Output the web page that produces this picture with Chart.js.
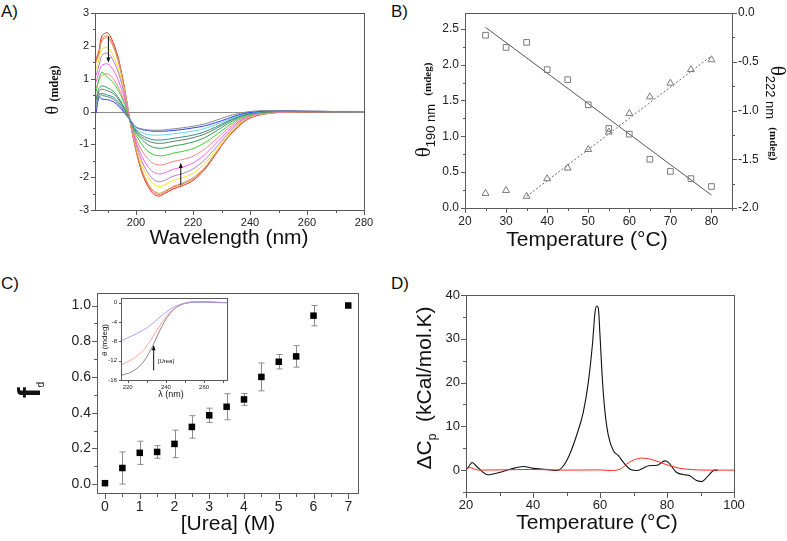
<!DOCTYPE html>
<html>
<head>
<meta charset="utf-8">
<script src="https://cdn.jsdelivr.net/npm/chart.js@4"></script>
<style>
  html, body { margin: 0; padding: 0; background: #fff; }
  #page { position: relative; width: 787px; height: 541px; overflow: hidden; }
  canvas { position: absolute; }
  .lbl { position: absolute; font: 17px "Liberation Sans", Arial, sans-serif; color: #111; line-height: 17px; }
</style>
</head>
<body>
<div id="page">
  <canvas id="cA" width="395" height="270" style="left:0;top:0;z-index:1"></canvas>
  <canvas id="cB" width="392" height="270" style="left:395px;top:0;z-index:1"></canvas>
  <canvas id="cC" width="395" height="270" style="left:0;top:271px;z-index:3"></canvas>
  <canvas id="cD" width="392" height="270" style="left:395px;top:271px;z-index:3"></canvas>
  <canvas id="cI" width="140" height="112" style="left:95px;top:290px;z-index:4"></canvas>
  <div class="lbl" style="left:1px;top:3px">A)</div>
  <div class="lbl" style="left:391px;top:3px">B)</div>
  <div class="lbl" style="left:1px;top:275px">C)</div>
  <div class="lbl" style="left:391px;top:275px">D)</div>
</div>
<script>
// ---- panel A : CD spectra ----
var aWave = [186,187,188,190,192,194,196,198,200,202,204,206,208,210,213,216,220,224,228,232,236,240,245,250,260,270,280];
var aRed     = [1.6,1.85,2.3,2.4,2.1,1.55,0.7,-0.35,-1.2,-1.85,-2.25,-2.5,-2.58,-2.5,-2.36,-2.27,-2.1,-1.78,-1.3,-0.82,-0.45,-0.2,-0.08,-0.03,-0.01,0,0];
var aOrange  = [1.55,1.8,2.2,2.31,2.02,1.49,0.67,-0.34,-1.17,-1.8,-2.2,-2.44,-2.53,-2.46,-2.31,-2.22,-2.05,-1.74,-1.27,-0.8,-0.43,-0.19,-0.07,-0.03,-0.01,0,0];
var aTan     = [1.5,1.75,2.15,2.25,1.97,1.45,0.65,-0.34,-1.15,-1.77,-2.16,-2.4,-2.49,-2.43,-2.28,-2.19,-2.02,-1.72,-1.26,-0.8,-0.42,-0.18,-0.07,-0.03,-0.01,0,0];
var aYellow  = [1.3,1.6,1.9,1.95,1.7,1.25,0.55,-0.33,-1.05,-1.62,-1.98,-2.2,-2.29,-2.24,-2.1,-2.03,-1.88,-1.6,-1.18,-0.75,-0.38,-0.15,-0.06,-0.02,0,0,0];
var aPurple  = [1.1,1.4,1.7,1.78,1.55,1.13,0.5,-0.32,-1.0,-1.5,-1.85,-2.06,-2.14,-2.1,-1.97,-1.9,-1.75,-1.48,-1.1,-0.7,-0.35,-0.14,-0.05,-0.02,0,0,0];
var aMagenta = [0.9,1.2,1.4,1.45,1.27,0.9,0.38,-0.31,-0.92,-1.35,-1.66,-1.84,-1.9,-1.87,-1.76,-1.7,-1.57,-1.32,-0.98,-0.62,-0.31,-0.12,-0.04,-0.01,0,0,0];
var aSalmon  = [0.7,0.95,1.1,1.15,1.0,0.7,0.28,-0.3,-0.83,-1.18,-1.43,-1.58,-1.63,-1.61,-1.52,-1.47,-1.36,-1.15,-0.85,-0.54,-0.27,-0.1,-0.03,-0.01,0,0,0];
var aGreen   = [0.6,1.0,1.2,1.05,0.88,0.6,0.22,-0.3,-0.72,-1.0,-1.2,-1.31,-1.35,-1.34,-1.27,-1.22,-1.13,-0.96,-0.72,-0.46,-0.23,-0.09,-0.02,0,0,0,0];
var aDkGreen = [0.4,0.7,0.78,0.72,0.62,0.4,0.1,-0.29,-0.64,-0.85,-1.0,-1.09,-1.12,-1.11,-1.05,-1.01,-0.93,-0.8,-0.6,-0.38,-0.19,-0.07,-0.02,0,0,0,0];
var aGrGreen = [0.35,0.62,0.68,0.63,0.55,0.35,0.07,-0.28,-0.6,-0.78,-0.89,-0.95,-0.97,-0.96,-0.91,-0.87,-0.8,-0.69,-0.52,-0.33,-0.16,-0.06,-0.01,0,0,0,0];
var aTeal    = [0.25,0.5,0.55,0.5,0.44,0.27,0.03,-0.28,-0.56,-0.72,-0.81,-0.86,-0.87,-0.86,-0.82,-0.78,-0.72,-0.62,-0.47,-0.3,-0.15,-0.05,-0.01,0.01,0,0,0];
var aCyan    = [0.2,0.45,0.48,0.45,0.38,0.22,0,-0.27,-0.53,-0.64,-0.7,-0.72,-0.72,-0.71,-0.68,-0.65,-0.6,-0.52,-0.4,-0.26,-0.13,-0.04,0,0.01,0,0,0];
var aBlue    = [-0.05,0.45,0.38,0.36,0.3,0.15,-0.05,-0.27,-0.48,-0.55,-0.58,-0.6,-0.6,-0.6,-0.58,-0.55,-0.5,-0.44,-0.34,-0.22,-0.1,-0.03,0.01,0.02,0.01,0,0];
var aGray    = [0.1,0.55,0.5,0.45,0.38,0.2,0,-0.26,-0.47,-0.53,-0.56,-0.57,-0.57,-0.56,-0.53,-0.5,-0.45,-0.38,-0.27,-0.15,-0.06,0,0.03,0.02,0.01,0,0];
var aXTicks = [190,200,210,220,230,240,250,260,270,280];
var aYTicks = [-3,-2.5,-2,-1.5,-1,-0.5,0,0.5,1,1.5,2,2.5,3];

// ---- panel B : melt at 190 / 222 nm ----
var bTemp   = [25,30,35,40,45,50,55,60,65,70,75,80];
var b190    = [2.41,2.24,2.31,1.93,1.79,1.44,1.11,1.03,0.68,0.51,0.41,0.30];
var b222    = [-1.85,-1.82,-1.88,-1.70,-1.59,-1.40,-1.22,-1.03,-0.86,-0.72,-0.58,-0.48];
var bFit190X = [25,80], bFit190Y = [2.52,0.18];
var bFit222X = [35,80], bFit222Y = [-1.88,-0.44];
var bXTicks  = [20,25,30,35,40,45,50,55,60,65,70,75,80,85];
var bYTicks  = [0,0.25,0.5,0.75,1,1.25,1.5,1.75,2,2.25,2.5];
var bY2Ticks = [-2,-1.75,-1.5,-1.25,-1,-0.75,-0.5,-0.25,0];

// ---- panel C : urea denaturation ----
var cUrea = [0,0.5,1,1.5,2,2.5,3,3.5,4,4.5,5,5.5,6,7];
var cFd   = [0.005,0.09,0.175,0.18,0.225,0.32,0.385,0.433,0.474,0.60,0.685,0.715,0.943,1.0];
var cErr  = [0,0.09,0.065,0.035,0.077,0.063,0.04,0.073,0.033,0.078,0.04,0.06,0.057,0];
var cXTicks = [0,0.5,1,1.5,2,2.5,3,3.5,4,4.5,5,5.5,6,6.5,7];
var cYTicks = [0,0.1,0.2,0.3,0.4,0.5,0.6,0.7,0.8,0.9,1.0];
// inset spectra
var iWave  = [217,222,227,232,237,242,247,252,257,262,267,272];
var iBlue  = [-7.8,-6.9,-5.9,-4.6,-2.9,-1.4,-0.4,0.0,0.1,0.1,0.05,0.0];
var iRed   = [-12.8,-11.8,-10.3,-7.8,-4.6,-2.0,-0.6,0.1,0.3,0.2,0.1,0.05];
var iBlack = [-15.0,-14.3,-12.8,-9.8,-5.6,-2.3,-0.6,0.05,0.2,0.2,0.1,0.05];
var iXTicks = [220,230,240,250,260,270];
var iYTicks = [-16,-12,-8,-4,0];

// ---- panel D : DSC ----
var dBlackT = [20,21,21.8,23.5,26.5,30.2,33.2,37.2,40.1,44.1,47.1,49.1,51,53,55,56.5,57.8,58.5,59,59.5,60,60.7,61.5,62.5,64,65.5,67,69,71,73,74.5,77,79.4,80.4,82.8,84.8,86.8,88.8,90.3,92.3,94.2,95.2];
var dBlackCp = [0,1.0,1.75,0.6,-1.07,-0.5,0.2,0.84,0.4,0.15,-0.1,1.0,3.7,7.9,13.2,20,29.2,36,37.5,37,30.8,20.8,13.2,7.9,4.4,3.3,1.75,0.2,-0.1,0.5,1.0,1.1,2.1,1.75,-0.5,-1.0,-1.3,-2.4,-2.6,-1.3,0,0];
var dRedT  = [20,21,21.8,23.8,30,40,50,60,63,66,68,70,72.5,75,78,80.8,83.9,87.8,92,100];
var dRedCp = [0,0.6,0.45,0,0.05,0.15,0,0.05,-0.1,0.2,1.4,2.3,2.75,2.5,1.75,1.0,0.4,0.1,0,0];
var dXTicks = [20,30,40,50,60,70,80,90,100];
var dYTicks = [-5,0,5,10,15,20,25,30,35,40];

var SANS  = '"Liberation Sans", Arial, sans-serif';
var SERIF = '"Liberation Serif", "Times New Roman", serif';
var AXC = '#5a5a5a';
Chart.defaults.font.family = SANS;
Chart.defaults.color = '#222';
Chart.defaults.animation = false;

function isMajor(v, major) {
	var q = v / major;
	return Math.abs(q - Math.round(q)) < 1e-6;
}

// linear axis with explicit tick list, labels only on majors, fixed box size.
// lines and tick marks are painted by the deco plugin below
function axis(min, max, tickList, major, dec, fs, size, extra) {
	var a = {
		type: 'linear', min: min, max: max,
		afterBuildTicks: function(s) { s.ticks = tickList.map(function(v) { return { value: v }; }); },
		afterFit: function(s) { if (s.isHorizontal()) s.height = size; else s.width = size; },
		ticks: { autoSkip: false, maxRotation: 0, padding: 2, font: { size: fs }, color: '#222',
			callback: function(v) { return isMajor(v, major) ? v.toFixed(dec) : ''; } },
		grid: { display: false, drawTicks: true, tickLength: 4 },
		border: { display: false }
	};
	return Object.assign(a, extra || {});
}

function richText(ctx, parts, cx, cy, rot, color) {
	ctx.save();
	ctx.translate(cx, cy);
	ctx.rotate(rot || 0);
	ctx.fillStyle = color || '#111';
	ctx.textBaseline = 'alphabetic';
	ctx.textAlign = 'left';
	var w = 0;
	parts.forEach(function(p) { ctx.font = p.f; p.w = ctx.measureText(p.t).width; w += p.w; });
	var x = -w / 2;
	parts.forEach(function(p) { ctx.font = p.f; ctx.fillText(p.t, x, 6 + (p.dy || 0)); x += p.w; });
	ctx.restore();
}

// fresh plugin per chart: box round the plot area, outward tick marks, then the chart's own texts
function deco(name, tickLen, fn) {
	return {
		id: 'deco' + name,
		afterDraw: function(c) {
			var a = c.chartArea, ctx = c.ctx;
			var l = Math.round(a.left), t = Math.round(a.top), r = Math.round(a.right), b = Math.round(a.bottom);
			ctx.save();
			ctx.globalAlpha = 1;
			ctx.globalCompositeOperation = 'source-over';
			ctx.fillStyle = AXC;
			ctx.fillRect(l, t, r - l + 1, 1);
			ctx.fillRect(l, b, r - l + 1, 1);
			ctx.fillRect(l, t, 1, b - t + 1);
			ctx.fillRect(r, t, 1, b - t + 1);
			Object.keys(c.scales).forEach(function(k) {
				var s = c.scales[k];
				s.ticks.forEach(function(tk) {
					var p = Math.round(s.getPixelForValue(tk.value));
					var len = tk.label ? tickLen : Math.max(2, tickLen - 2);
					if (s.isHorizontal()) ctx.fillRect(p, b + 1, 1, len);
					else if (s.position === 'right') ctx.fillRect(r + 1, p, len, 1);
					else ctx.fillRect(l - len, p, len, 1);
				});
			});
			ctx.restore();
			if (fn) fn(ctx, c);
		}
	};
}

function arrow(ctx, x, y0, y1) {
	ctx.save();
	ctx.strokeStyle = '#111';
	ctx.fillStyle = '#111';
	ctx.lineWidth = 1;
	ctx.beginPath(); ctx.moveTo(x, y0); ctx.lineTo(x, y1); ctx.stroke();
	var d = y1 > y0 ? 1 : -1;
	ctx.beginPath();
	ctx.moveTo(x, y1 + d);
	ctx.lineTo(x - 2, y1 - 4 * d);
	ctx.lineTo(x + 2, y1 - 4 * d);
	ctx.closePath(); ctx.fill();
	ctx.restore();
}

function pts(xs, ys) { return xs.map(function(x, i) { return { x: x, y: ys[i] }; }); }

// ---------- C ----------
var errBars = {
	id: 'errBars',
	beforeDatasetsDraw: function(c) {
		var sx = c.scales.x, sy = c.scales.y, ctx = c.ctx;
		ctx.save();
		ctx.strokeStyle = '#8a8a8a';
		ctx.lineWidth = 1;
		cUrea.forEach(function(u, i) {
			if (!cErr[i]) return;
			var x = Math.round(sx.getPixelForValue(u)) + 0.5;
			var yt = sy.getPixelForValue(cFd[i] + cErr[i]), yb = sy.getPixelForValue(cFd[i] - cErr[i]);
			ctx.beginPath();
			ctx.moveTo(x, yt); ctx.lineTo(x, yb);
			ctx.moveTo(x - 3, yt); ctx.lineTo(x + 3, yt);
			ctx.moveTo(x - 3, yb); ctx.lineTo(x + 3, yb);
			ctx.stroke();
		});
		ctx.restore();
	}
};
new Chart(document.getElementById('cC'), {
	type: 'scatter',
	data: { datasets: [
		{ data: pts(cUrea, cFd), pointStyle: 'rect', pointRadius: 4.6, backgroundColor: '#000', borderColor: '#000', borderWidth: 0 }
	] },
	options: {
		responsive: false, devicePixelRatio: 1,
		layout: { padding: { left: 0, top: 22, right: 37, bottom: 0 } },
		plugins: { legend: { display: false }, tooltip: { enabled: false } },
		scales: {
			x: axis(-0.23, 7.28, cXTicks, 1, 0, 14, 48),
			y: axis(-0.05, 1.07, cYTicks, 0.2, 1, 14, 97)
		}
	},
	plugins: [errBars, deco('C', 5, function(ctx) {
		richText(ctx, [{ t: '[Urea] (M)', f: '21px ' + SANS }], 228, 253, 0);
		richText(ctx, [{ t: 'f', f: 'bold 32px ' + SANS }, { t: 'd', f: '10px ' + SANS, dy: 4 }], 34, 119, -Math.PI / 2);
	})]
});

// ---------- D ----------
new Chart(document.getElementById('cD'), {
	type: 'line',
	data: { datasets: [
		{ data: pts(dRedT, dRedCp), borderColor: '#ff2a2a', borderWidth: 1, pointRadius: 0, cubicInterpolationMode: 'monotone' },
		{ data: pts(dBlackT, dBlackCp), borderColor: '#111', borderWidth: 1.1, pointRadius: 0, cubicInterpolationMode: 'monotone' }
	] },
	options: {
		responsive: false, devicePixelRatio: 1,
		layout: { padding: { left: 0, top: 24, right: 53, bottom: 0 } },
		plugins: { legend: { display: false }, tooltip: { enabled: false } },
		scales: {
			x: axis(20, 100, dXTicks, 20, 0, 13, 49),
			y: axis(-5, 40, dYTicks, 10, 0, 13, 71)
		}
	},
	plugins: [deco('D', 5, function(ctx) {
		richText(ctx, [{ t: 'Temperature (°C)', f: '21px ' + SANS }], 202, 252, 0);
		richText(ctx, [{ t: 'ΔC', f: '21px ' + SANS }, { t: 'p', f: '12px ' + SANS, dy: 5 }, { t: '  (kCal/mol.K)', f: '21px ' + SANS }], 30, 117, -Math.PI / 2);
	})]
});

// ---------- A ----------
var aSeries = [
	[aGray, '#8a8a8a'], [aBlue, '#2e3cf0'], [aCyan, '#5fd8e8'], [aTeal, '#3a8c8c'],
	[aGrGreen, '#5e7f60'], [aDkGreen, '#2f9a58'], [aGreen, '#35cc35'], [aSalmon, '#ff8080'],
	[aMagenta, '#ff5cf0'], [aPurple, '#b07cc8'], [aYellow, '#f4e418'], [aTan, '#c49a78'],
	[aOrange, '#f07a30'], [aRed, '#e42a1c']
];
var zeroLine = {
	id: 'zeroLine',
	beforeDatasetsDraw: function(c) {
		var a = c.chartArea, ctx = c.ctx;
		var y = Math.round(c.scales.y.getPixelForValue(0));
		ctx.save();
		ctx.fillStyle = '#8c8c8c';
		ctx.fillRect(Math.round(a.left), y, Math.round(a.right - a.left), 1);
		ctx.restore();
	}
};
new Chart(document.getElementById('cA'), {
	type: 'line',
	data: { datasets: aSeries.map(function(s) {
		return { data: pts(aWave, s[0]), borderColor: s[1], borderWidth: 1, pointRadius: 0, tension: 0.3, fill: false };
	}) },
	options: {
		responsive: false, devicePixelRatio: 1,
		layout: { padding: { left: 0, top: 13, right: 31, bottom: 0 } },
		plugins: { legend: { display: false }, tooltip: { enabled: false } },
		scales: {
			x: axis(185.6, 280, aXTicks, 20, 0, 11, 60),
			y: axis(-3, 3, aYTicks, 1, 0, 11, 95)
		}
	},
	plugins: [zeroLine, deco('A', 4, function(ctx, c) {
		var sx = c.scales.x, sy = c.scales.y;
		arrow(ctx, sx.getPixelForValue(190.3), sy.getPixelForValue(2.29), sy.getPixelForValue(1.52));
		arrow(ctx, sx.getPixelForValue(215.7), sy.getPixelForValue(-2.25), sy.getPixelForValue(-1.6));
		richText(ctx, [{ t: 'Wavelength (nm)', f: '21px ' + SANS }], 229, 238, 0);
		richText(ctx, [{ t: 'θ ', f: '18px ' + SERIF }, { t: '(mdeg)', f: 'bold 12px ' + SERIF }], 52, 90, -Math.PI / 2);
	})]
});

// ---------- B ----------
var greyMk = '#7a7a7a';
new Chart(document.getElementById('cB'), {
	type: 'scatter',
	data: { datasets: [
		{ data: pts(bTemp, b190), yAxisID: 'y', pointStyle: 'rect', pointRadius: 4, borderColor: greyMk, backgroundColor: 'rgba(0,0,0,0)', borderWidth: 1 },
		{ data: pts(bTemp, b222), yAxisID: 'y2', pointStyle: 'triangle', pointRadius: 4, borderColor: greyMk, backgroundColor: 'rgba(0,0,0,0)', borderWidth: 1 },
		{ data: pts(bFit190X, bFit190Y), yAxisID: 'y', showLine: true, pointRadius: 0, borderColor: '#555', borderWidth: 1 },
		{ data: pts(bFit222X, bFit222Y), yAxisID: 'y2', showLine: true, pointRadius: 0, borderColor: '#666', borderWidth: 1, borderDash: [2, 2] }
	] },
	options: {
		responsive: false, devicePixelRatio: 1,
		layout: { padding: { left: 0, top: 13, right: 0, bottom: 0 } },
		plugins: { legend: { display: false }, tooltip: { enabled: false } },
		scales: {
			x: axis(20, 85, bXTicks, 10, 0, 12, 62),
			y: axis(0, 2.72, bYTicks, 0.5, 1, 12, 70),
			y2: axis(-2, 0, bY2Ticks, 0.5, 1, 12, 55, { position: 'right' })
		}
	},
	plugins: [deco('B', 4, function(ctx) {
		richText(ctx, [{ t: 'Temperature (°C)', f: '21px ' + SANS }], 192, 240, 0);
		richText(ctx, [{ t: 'θ', f: '21px ' + SERIF }, { t: '190 nm', f: '13px ' + SANS, dy: 5 }, { t: '   (mdeg)', f: 'bold 11px ' + SERIF, dy: 1 }], 29, 110, -Math.PI / 2);
		richText(ctx, [{ t: 'θ', f: '21px ' + SERIF }, { t: '222 nm', f: '13px ' + SANS, dy: 5 }, { t: '   (mdeg)', f: 'bold 11px ' + SERIF, dy: 1 }], 382, 113, Math.PI / 2);
	})]
});

// ---------- inset of C ----------
new Chart(document.getElementById('cI'), {
	type: 'line',
	data: { datasets: [
		{ data: pts(iWave, iBlue), borderColor: '#8c8cff', borderWidth: 0.8, pointRadius: 0, tension: 0.4 },
		{ data: pts(iWave, iRed), borderColor: '#ff8c8c', borderWidth: 0.8, pointRadius: 0, tension: 0.4 },
		{ data: pts(iWave, iBlack), borderColor: '#666', borderWidth: 0.8, pointRadius: 0, tension: 0.4 }
	] },
	options: {
		responsive: false, devicePixelRatio: 1,
		layout: { padding: { left: 0, top: 8, right: 8, bottom: 0 } },
		plugins: { legend: { display: false }, tooltip: { enabled: false } },
		scales: {
			x: axis(216.5, 272, iXTicks, 20, 0, 6, 22, {
				grid: { display: false, drawTicks: true, tickLength: 2 } }),
			y: axis(-16, 1, iYTicks, 4, 0, 6, 26, {
				grid: { display: false, drawTicks: true, tickLength: 2 } })
		}
	},
	plugins: [deco('I', 2, function(ctx, c) {
		var sx = c.scales.x, sy = c.scales.y;
		arrow(ctx, sx.getPixelForValue(233.6), sy.getPixelForValue(-14), sy.getPixelForValue(-9));
		richText(ctx, [{ t: '[Urea]', f: '6px ' + SANS }], sx.getPixelForValue(240), sy.getPixelForValue(-12) - 4, 0);
		richText(ctx, [{ t: 'λ (nm)', f: '9px ' + SANS }], 76, 101, 0);
		richText(ctx, [{ t: 'θ (mdeg)', f: '8px ' + SANS }], 6, 50, -Math.PI / 2);
	})]
});
</script>
</body>
</html>
